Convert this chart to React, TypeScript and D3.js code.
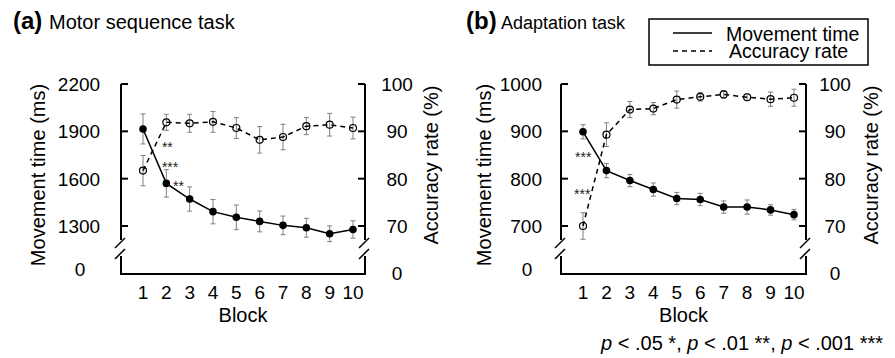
import React from "react";
import * as d3 from "d3";

// block numbers on the x axis
const blocks = [1, 2, 3, 4, 5, 6, 7, 8, 9, 10];

// (a) Motor sequence task
const seqMT = [1915, 1570, 1471, 1391, 1355, 1329, 1304, 1289, 1251, 1278];
const seqMTErr = [95, 87, 77, 77, 78, 66, 59, 60, 50, 55];
const seqAcc = [81.7, 91.9, 91.7, 92.0, 90.7, 88.2, 88.8, 91.1, 91.4, 90.7];
const seqAccErr = [3.2, 1.7, 1.9, 2.2, 2.2, 2.8, 2.7, 1.8, 2.4, 2.3];
const seqMTTicks = [1300, 1600, 1900, 2200];

// (b) Adaptation task
const adaMT = [899, 817, 796, 777, 758, 756, 740, 740, 734, 724];
const adaMTErr = [15, 15, 13, 14, 13, 13, 13, 15, 11, 11];
const adaAcc = [70.0, 89.3, 94.6, 94.8, 96.7, 97.3, 97.8, 97.2, 96.8, 97.1];
const adaAccErr = [2.8, 2.5, 1.7, 1.3, 1.8, 0.9, 0.8, 0.7, 1.5, 1.8];
const adaMTTicks = [700, 800, 900, 1000];

const accTicks = [70, 80, 90, 100];

// significance marks: [label, block position, movement-time value]
const seqStars: [string, number, number][] = [
  ["**", 1.81, 1820],
  ["***", 1.81, 1693],
  ["**", 2.29, 1572],
];
const adaStars: [string, number, number][] = [
  ["***", 0.66, 852],
  ["***", 0.62, 774],
];

const FONT = "'Liberation Sans', Arial, sans-serif";

type PanelProps = {
  left: number;
  right: number;
  x1: number;
  x10: number;
  letter: string;
  title: string;
  titleX: number;
  titleGap: number;
  titleSize: number;
  mt: number[];
  mtErr: number[];
  acc: number[];
  accErr: number[];
  mtTicks: number[];
  stars: [string, number, number][];
  leftLabelX: number;
  leftTickX: number;
  leftTickAnchor: string;
  zeroLeftX: number;
  rightTickX: number;
  rightLabelX: number;
};

function Break({ x }: { x: number }) {
  return (
    <g stroke="#000" strokeWidth={1.5} fill="none">
      <path d={`M${x - 6},${248} L${x + 4},${238}`} />
      <path d={`M${x - 6},${259} L${x + 4},${249}`} />
    </g>
  );
}

function Panel(p: PanelProps) {
  const top = 84;
  const low = 226;
  const bottom = 274;
  const x = d3.scaleLinear().domain([1, 10]).range([p.x1, p.x10]);
  const yMT = d3
    .scaleLinear()
    .domain([p.mtTicks[0], p.mtTicks[p.mtTicks.length - 1]])
    .range([low, top]);
  const yAcc = d3.scaleLinear().domain([70, 100]).range([low, top]);

  const mtLine = d3
    .line<number>()
    .x((d, i) => x(blocks[i]))
    .y((d) => yMT(d));
  const accLine = d3
    .line<number>()
    .x((d, i) => x(blocks[i]))
    .y((d) => yAcc(d));

  const errBar = (cx: number, y0: number, y1: number, key: string) => (
    <g key={key} stroke="#808080" strokeWidth={1}>
      <line x1={cx} x2={cx} y1={y0} y2={y1} />
      <line x1={cx - 2.5} x2={cx + 2.5} y1={y0} y2={y0} />
      <line x1={cx - 2.5} x2={cx + 2.5} y1={y1} y2={y1} />
    </g>
  );

  const midX = (p.left + p.right) / 2;

  return (
    <g fontFamily={FONT}>
      {/* title */}
      <text x={p.titleX} y={29} fontSize={24} fontWeight="bold">
        {p.letter}
      </text>
      <text x={p.titleX + p.titleGap} y={29} fontSize={p.titleSize}>
        {p.title}
      </text>

      {/* axes */}
      <g stroke="#000" strokeWidth={2} fill="none">
        <path d={`M${p.left},${top} V${240}`} />
        <path d={`M${p.left},${256} V${bottom} H${p.right} V${256}`} />
        <path d={`M${p.right},${240} V${top}`} />
        {p.mtTicks.map((t) => (
          <line key={"lt" + t} x1={p.left} x2={p.left + 7} y1={yMT(t)} y2={yMT(t)} />
        ))}
        {accTicks.map((t) => (
          <line key={"rt" + t} x1={p.right - 7} x2={p.right} y1={yAcc(t)} y2={yAcc(t)} />
        ))}
      </g>
      <Break x={p.left} />
      <Break x={p.right} />

      {/* tick labels */}
      <g fontSize={19}>
        {p.mtTicks.map((t) => (
          <text key={"ll" + t} x={p.leftTickX} y={yMT(t)} dy="0.36em" textAnchor={p.leftTickAnchor}>
            {t}
          </text>
        ))}
        <text x={p.zeroLeftX} y={269} dy="0.36em" textAnchor="middle">
          0
        </text>
        {accTicks.map((t) => (
          <text key={"rl" + t} x={p.rightTickX} y={yAcc(t)} dy="0.36em" textAnchor="middle">
            {t}
          </text>
        ))}
        <text x={p.rightTickX} y={273} dy="0.36em" textAnchor="middle">
          0
        </text>
        {blocks.map((b) => (
          <text key={"bx" + b} x={x(b)} y={299} textAnchor="middle">
            {b}
          </text>
        ))}
      </g>

      {/* axis titles */}
      <text x={midX} y={322} fontSize={20} textAnchor="middle">
        Block
      </text>
      <text
        transform={`translate(${p.leftLabelX},175) rotate(-90)`}
        fontSize={20}
        textAnchor="middle"
        dy="0.36em"
      >
        Movement time (ms)
      </text>
      <text
        transform={`translate(${p.rightLabelX},165) rotate(-90)`}
        fontSize={20}
        textAnchor="middle"
        dy="0.36em"
      >
        Accuracy rate (%)
      </text>

      {/* error bars */}
      {blocks.map((b, i) =>
        errBar(x(b), yAcc(p.acc[i] + p.accErr[i]), yAcc(p.acc[i] - p.accErr[i]), "ea" + b)
      )}
      {blocks.map((b, i) =>
        errBar(x(b), yMT(p.mt[i] + p.mtErr[i]), yMT(p.mt[i] - p.mtErr[i]), "em" + b)
      )}

      {/* series */}
      <path d={accLine(p.acc) || ""} fill="none" stroke="#000" strokeWidth={1.5} strokeDasharray="5,4" />
      <path d={mtLine(p.mt) || ""} fill="none" stroke="#000" strokeWidth={1.5} />
      {blocks.map((b, i) => (
        <circle key={"ca" + b} cx={x(b)} cy={yAcc(p.acc[i])} r={3.5} fill="none" stroke="#000" strokeWidth={1.2} />
      ))}
      {blocks.map((b, i) => (
        <circle key={"cm" + b} cx={x(b)} cy={yMT(p.mt[i])} r={3.8} fill="#000" />
      ))}

      {/* significance */}
      {p.stars.map(([s, b, v], i) => (
        <text key={"s" + i} x={x(b)} y={yMT(v) + 8} fontSize={14} fill="#222">
          {s}
        </text>
      ))}
    </g>
  );
}

export default function App() {
  return (
    <svg
      width={895}
      height={358}
      style={{ position: "absolute", left: 0, top: 0, background: "#fff" }}
    >
      <Panel
        left={121}
        right={365}
        x1={143}
        x10={353}
        letter="(a)"
        title="Motor sequence task"
        titleX={13}
        titleGap={36}
        titleSize={20}
        mt={seqMT}
        mtErr={seqMTErr}
        acc={seqAcc}
        accErr={seqAccErr}
        mtTicks={seqMTTicks}
        stars={seqStars}
        leftLabelX={38}
        leftTickX={79}
        leftTickAnchor="middle"
        zeroLeftX={80}
        rightTickX={397}
        rightLabelX={431}
      />
      <Panel
        left={561}
        right={806}
        x1={583}
        x10={794}
        letter="(b)"
        title="Adaptation task"
        titleX={466}
        titleGap={35}
        titleSize={18}
        mt={adaMT}
        mtErr={adaMTErr}
        acc={adaAcc}
        accErr={adaAccErr}
        mtTicks={adaMTTicks}
        stars={adaStars}
        leftLabelX={484}
        leftTickX={542}
        leftTickAnchor="end"
        zeroLeftX={527}
        rightTickX={835}
        rightLabelX={871}
      />

      {/* legend */}
      <g fontFamily={FONT} fontSize={19.5}>
        <rect x={649} y={19} width={219} height={46} fill="#fff" stroke="#000" strokeWidth={1.5} />
        <line x1={673} x2={712} y1={33} y2={33} stroke="#000" strokeWidth={1.5} />
        <line x1={673} x2={712} y1={51} y2={51} stroke="#000" strokeWidth={1.5} strokeDasharray="5,4" />
        <text x={726} y={41}>Movement time</text>
        <text x={729} y={58}>Accuracy rate</text>
      </g>

      {/* footnote */}
      <text x={883} y={350} fontFamily={FONT} fontSize={20} textAnchor="end">
        <tspan fontStyle="italic">p</tspan>
        {" < .05 *, "}
        <tspan fontStyle="italic">p</tspan>
        {" < .01 **, "}
        <tspan fontStyle="italic">p</tspan>
        {" < .001 ***"}
      </text>
    </svg>
  );
}
